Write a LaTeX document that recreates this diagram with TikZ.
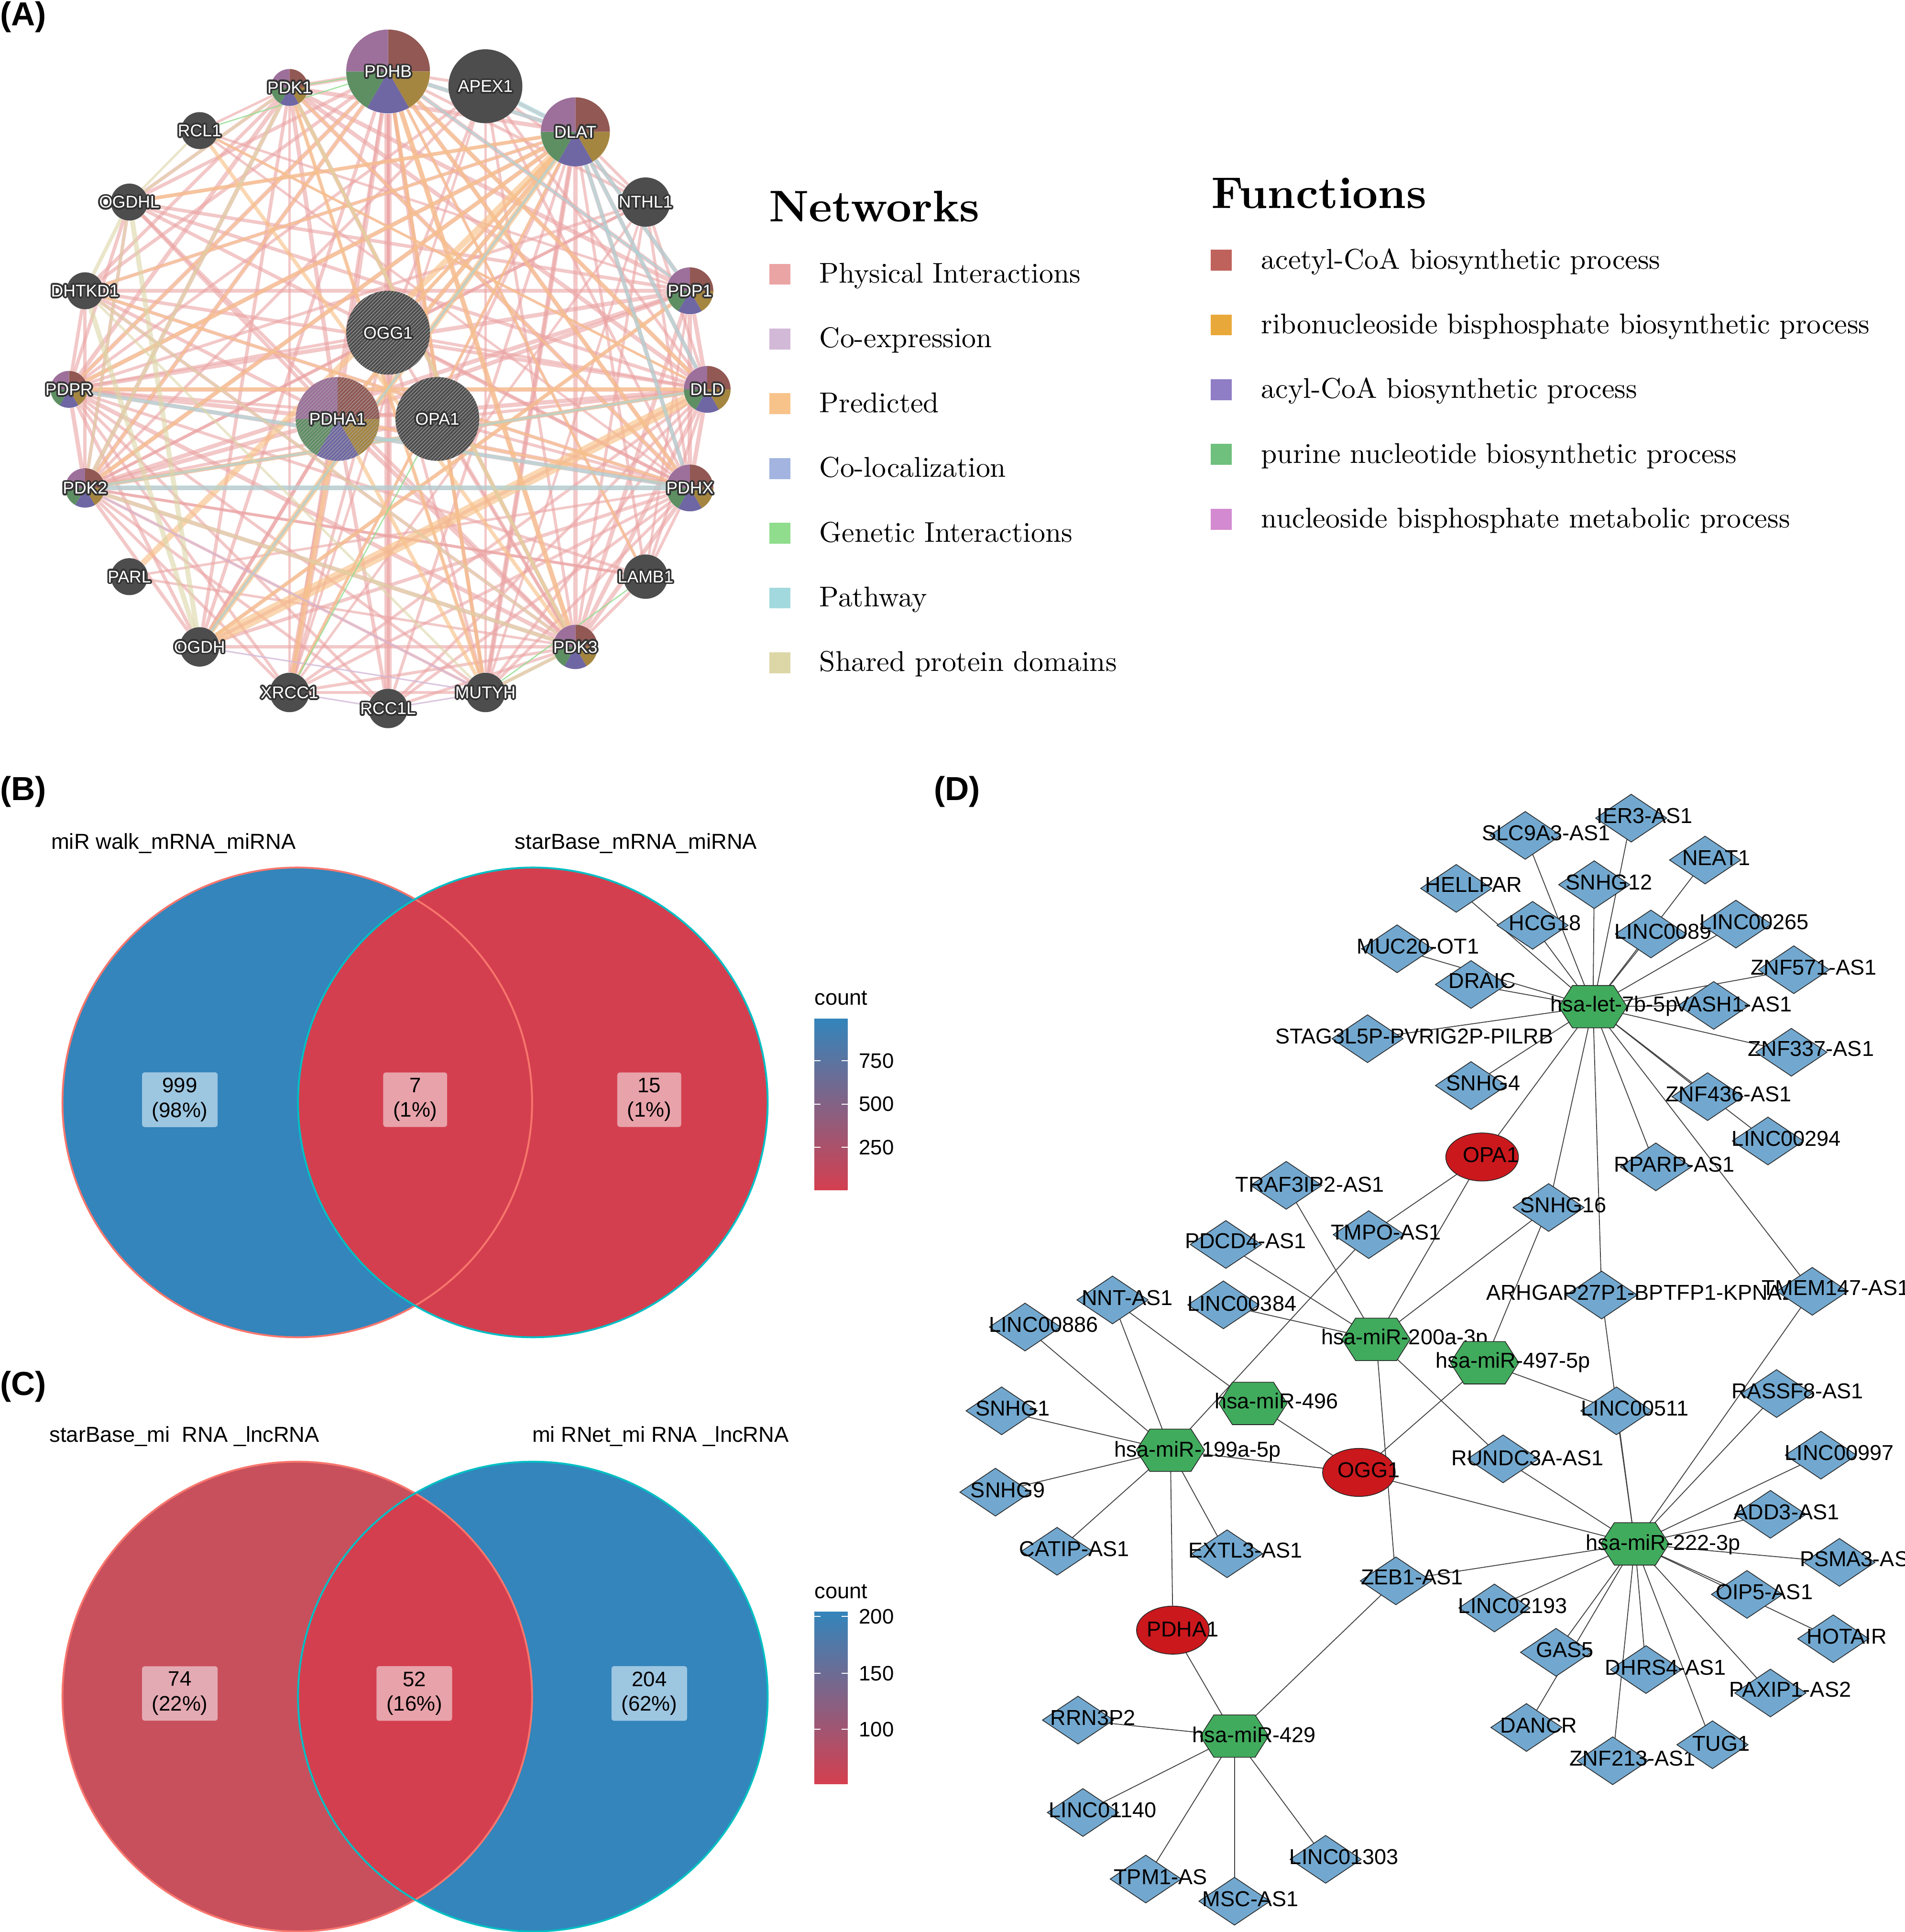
\documentclass[tikz,border=0pt]{standalone}
\usepackage{fontspec}
\newfontfamily\arialfont{Liberation Sans}
\newfontfamily\lmten{lmroman10-regular.otf}[BoldFont=lmroman10-bold.otf]
\usepackage{contour}
\contourlength{1.4pt}
\usetikzlibrary{shapes.geometric,patterns,calc}
\pgfdeclarelayer{edges}
\pgfsetlayers{edges,main}

\definecolor{genegrey}{HTML}{4D4D4D}
\definecolor{wred}{HTML}{925853}
\definecolor{wgold}{HTML}{A58641}
\definecolor{wpurple}{HTML}{6F67A4}
\definecolor{wgreen}{HTML}{5E8F63}
\definecolor{wmauve}{HTML}{9D709B}
\definecolor{fnred}{HTML}{C0625C}
\definecolor{fngold}{HTML}{E9A93A}
\definecolor{fnpurple}{HTML}{8F7DC6}
\definecolor{fngreen}{HTML}{6FC07D}
\definecolor{fnpink}{HTML}{D38AD0}
\definecolor{nphys}{HTML}{EBA4A4}
\definecolor{ncoexp}{HTML}{D3B9D8}
\definecolor{npred}{HTML}{F8C38A}
\definecolor{ncoloc}{HTML}{A2B4DF}
\definecolor{ngen}{HTML}{90DD8E}
\definecolor{npath}{HTML}{A2D9DE}
\definecolor{nshared}{HTML}{DDD6A7}
\definecolor{vblue}{HTML}{3385BB}
\definecolor{vred}{HTML}{D43F4F}
\definecolor{vmuted}{HTML}{C8505D}
\definecolor{vsalmon}{HTML}{F8766D}
\definecolor{vcyan}{HTML}{00BFC4}
\definecolor{boxblue}{HTML}{9DC6E1}
\definecolor{boxpink}{HTML}{E8A2AA}
\definecolor{boxmuted}{HTML}{E4AAB3}
\definecolor{cbmid}{HTML}{9A6C8E}
\definecolor{lncblue}{HTML}{72A8CF}
\definecolor{mirgreen}{HTML}{41AB5D}
\definecolor{mrnared}{HTML}{CB181D}

\begin{document}
\begin{tikzpicture}[x=1pt, y=-1pt,
  gene/.style={circle, inner sep=0pt, draw=none},
  glabel/.style={anchor=base, inner sep=0pt, text=white, font=\arialfont\fontsize{13.8}{14}\selectfont},
  legsq/.style={minimum size=17pt, inner sep=0pt},
  legtext/.style={anchor=base west, inner sep=0pt, font=\lmten\fontsize{23.2}{25}\selectfont},
  legtitle/.style={anchor=base west, inner sep=0pt, font=\lmten\fontsize{36}{38}\selectfont\bfseries},
  panel/.style={anchor=base west, inner sep=0pt, font=\arialfont\fontsize{27}{28}\selectfont\bfseries},
  vtitle/.style={anchor=base west, inner sep=0pt, font=\arialfont\fontsize{17.6}{18}\selectfont},
  vbox/.style={rounded corners=2pt, align=center, inner xsep=8pt, inner ysep=4.5pt, font=\arialfont\fontsize{17}{20}\selectfont},
  cbtick/.style={anchor=west, inner sep=0pt, font=\arialfont\fontsize{17}{18}\selectfont},
  lnc/.style={diamond, draw=black!85, line width=0.6pt, fill=lncblue, minimum width=58pt, minimum height=39pt, inner sep=0pt},
  mrna/.style={ellipse, draw=black!85, line width=0.6pt, fill=mrnared, minimum width=59pt, minimum height=39pt, inner sep=0pt},
  mirna/.style={rectangle, minimum width=55pt, minimum height=34pt, inner sep=0pt},
  mirshape/.style={fill=mirgreen, draw=black!85, line width=0.6pt},
  dlab/.style={anchor=base, inner sep=0pt, font=\arialfont\fontsize{17.5}{18}\selectfont},
  dedge/.style={draw=black!75, line width=0.7pt},
  phys/.style={draw=nphys, line width=#1, draw opacity=0.6}, phys/.default=3.4pt,
  pred/.style={draw=npred, line width=#1, draw opacity=0.65}, pred/.default=3pt,
  pathw/.style={draw=npath, line width=#1, draw opacity=0.6}, pathw/.default=3pt,
  shared/.style={draw=nshared, line width=#1, draw opacity=0.6}, shared/.default=3pt,
  coexp/.style={draw=ncoexp, line width=1.2pt, draw opacity=0.8},
  genet/.style={draw=ngen, line width=1pt, draw opacity=0.8}]

\begin{pgfonlayer}{edges}
\fill[white] (0,0) rectangle (1546,1568);
\end{pgfonlayer}
\useasboundingbox (0,0) rectangle (1546,1568);

% ---------- (A) GeneMANIA network
\node[panel] (labA) at (0,20.6) {(A)};

\foreach \n/\x/\y/\rad/\hat/\lbl in {pdhb/315/58/34/0/PDHB, dlat/467/107/28/0/DLAT, pdkone/235/71/15/0/PDK1,
    pdpone/560/236/19/0/PDP1, pdpr/56/316/15/0/PDPR, dld/574/316/19/0/DLD, pdha/274/340/34/1/PDHA1,
    pdktwo/69/396/16/0/PDK2, pdhx/560/396/19/0/PDHX, pdkthree/467/525/18/0/PDK3}{
  \node[gene, minimum size=2*\rad*1pt] (\n) at (\x,\y) {};
  \foreach \col/\sa/\ea in {wred/-90/0, wgold/0/60, wpurple/60/120, wgreen/120/180, wmauve/180/270}
    \fill[\col] (\n.center) -- ++(\sa:\rad) arc[start angle=\sa, end angle=\ea, radius=\rad] -- cycle;
  \ifnum\hat=1 \fill[pattern=north east lines, pattern color=gray!70] (\n.center) circle[radius=\rad]; \fi
  \node[glabel] (\n-t) at (\x,\y+4.8) {\contour{black!80}{\lbl}};
}

\foreach \n/\x/\y/\rad/\hat/\lbl in {apex/394/70/30/0/APEX1, rcl/162/106/15/0/RCL1, ogdhl/105/164/15/0/OGDHL,
    nthl/524/164/20/0/NTHL1, dhtkd/69/236/15/0/DHTKD1, ogg/315/270/34/1/OGG1, opa/355/340/34/1/OPA1,
    parl/105/468/15/0/PARL, lamb/524/468/18/0/LAMB1, ogdh/162/525/16/0/OGDH, xrcc/235/562/16/0/XRCC1,
    rccl/315/575/16/0/RCC1L, mutyh/394/562/16/0/MUTYH}{
  \node[gene, fill=genegrey, minimum size=2*\rad*1pt] (\n) at (\x,\y) {};
  \ifnum\hat=1 \fill[pattern=north east lines, pattern color=gray!70] (\n.center) circle[radius=\rad]; \fi
  \node[glabel] (\n-t) at (\x,\y+4.8) {\contour{black!80}{\lbl}};
}

\begin{pgfonlayer}{edges}
\foreach \a [count=\i] in {pdhb,dlat,pdha,dld,pdhx,pdkone,pdktwo,pdkthree,pdpone,pdpr}
  \foreach \b [count=\j] in {pdhb,dlat,pdha,dld,pdhx,pdkone,pdktwo,pdkthree,pdpone,pdpr}
    {\ifnum\j>\i \draw[phys] (\a) -- (\b); \fi}
\foreach \a in {ogdh,ogdhl,dhtkd}
  \foreach \b in {pdhb,dlat,pdha,dld,pdhx,pdpone,pdpr,pdktwo,pdkone,pdkthree}
    \draw[phys=2.8pt] (\a) -- (\b);
\foreach \a in {ogg,opa,apex,mutyh,xrcc,rccl,nthl,lamb}
  \foreach \b in {pdhb,dlat,dld,pdhx,pdkthree,pdpr,pdktwo}
    \draw[phys=2.4pt] (\a) -- (\b);
\foreach \a/\b/\w in {ogg/apex/2.4pt, ogg/nthl/2.4pt, ogg/xrcc/2.4pt, ogg/mutyh/2.4pt, apex/xrcc/2pt,
    apex/nthl/2pt, apex/mutyh/2pt, xrcc/mutyh/2pt, nthl/mutyh/2pt, nthl/xrcc/2pt, lamb/pdpone/2pt,
    rccl/pdhb/6pt, rcl/pdkone/2pt, rcl/pdhx/2pt, rcl/dld/2pt, rcl/pdpone/2pt, xrcc/pdha/6pt,
    mutyh/pdhb/3pt, mutyh/dlat/4pt, parl/pdhx/2pt, parl/pdkthree/2pt, pdha/ogdh/3pt, pdktwo/lamb/2pt,
    xrcc/pdkone/2pt, mutyh/pdkone/2pt, rccl/pdha/3pt}
  \draw[phys=\w] (\a) -- (\b);
\foreach \a/\b/\w in {ogdh/dld/9pt, ogdh/dlat/5pt, parl/dlat/5pt, pdhb/pdkthree/4pt, rcl/pdkthree/3pt,
    ogdhl/dlat/3pt, pdktwo/dlat/3pt, pdkone/mutyh/3pt, pdha/dlat/3pt, xrcc/pdha/4pt, pdhb/dld/3pt,
    dhtkd/pdhx/2pt, ogdh/pdpone/3pt, pdpr/dld/3pt, pdkone/pdhx/2pt, pdhb/pdktwo/2pt, pdha/pdhx/2pt,
    ogg/dlat/3pt, xrcc/dlat/2pt, pdpr/pdhb/2pt, pdpr/dlat/3pt, dhtkd/dlat/2pt, pdhb/mutyh/3pt,
    pdhb/lamb/2pt, pdhb/pdhx/3pt, pdkone/pdkthree/2pt, dld/pdktwo/3pt, pdha/mutyh/3pt, rcl/dld/2pt}
  \draw[pred=\w] (\a) -- (\b);
\foreach \a/\b/\w in {pdktwo/pdhx/4pt, pdpr/pdhx/3pt, pdhb/dlat/3pt, apex/dlat/4pt, dlat/pdpone/3pt,
    dlat/pdhx/3pt, pdktwo/dld/2pt, ogdh/dlat/2pt, pdhb/pdpone/2pt, dlat/dld/3pt}
  \draw[pathw=\w] (\a) -- (\b);
\foreach \a/\b/\w in {ogdhl/ogdh/4pt, dhtkd/ogdh/4pt, ogdhl/dhtkd/3pt, pdkone/pdkthree/3pt,
    pdkone/pdktwo/3pt, pdktwo/pdkthree/3pt, ogdhl/pdktwo/2pt, dhtkd/pdkthree/2pt, rcl/ogdhl/2pt,
    pdkone/ogdhl/2pt, mutyh/pdkthree/3pt, dhtkd/mutyh/2pt}
  \draw[shared=\w] (\a) -- (\b);
\foreach \a/\b in {xrcc/rccl, rccl/mutyh, pdktwo/mutyh, ogdh/mutyh}
  \draw[coexp] (\a) -- (\b);
\foreach \a/\b in {rcl/pdhb, xrcc/opa, pdkone/pdhb, mutyh/lamb}
  \draw[genet] (\a) -- (\b);
\end{pgfonlayer}

% legend of (A)
\node[legtitle] (nettitle) at (624,180) {Networks};
\foreach \col/\lbl [count=\i from 0] in {nphys/Physical Interactions, ncoexp/Co-expression, npred/Predicted,
    ncoloc/Co-localization, ngen/Genetic Interactions, npath/Pathway, nshared/Shared protein domains}{
  \node[legsq, fill=\col] (net\i) at (633,222.6+52.55*\i) {};
  \node[legtext] (net\i-t) at (665,229.6+52.55*\i) {\lbl};
}
\node[legtitle] (fntitle) at (983,169) {Functions};
\foreach \col/\lbl [count=\i from 0] in {fnred/acetyl-CoA biosynthetic process,
    fngold/ribonucleoside bisphosphate biosynthetic process, fnpurple/acyl-CoA biosynthetic process,
    fngreen/purine nucleotide biosynthetic process, fnpink/nucleoside bisphosphate metabolic process}{
  \node[legsq, fill=\col] (fn\i) at (991.3,211.2+52.55*\i) {};
  \node[legtext] (fn\i-t) at (1023.5,218.2+52.55*\i) {\lbl};
}

% ---------- (B) Venn mRNA-miRNA
\node[panel] (labB) at (0,649.4) {(B)};
\node[vtitle] (btitlel) at (41.4,689.2) {miR walk\_mRNA\_miRNA};
\node[vtitle] (btitler) at (417.7,689.2) {starBase\_mRNA\_miRNA};
\fill[vblue] (241.3,894.7) circle[radius=190.6];
\fill[vred] (432.5,894.7) circle[radius=190.6];
\draw[vsalmon, line width=1.5pt] (241.3,894.7) circle[radius=190.6];
\draw[vcyan, line width=1.5pt] (432.5,894.7) circle[radius=190.6];
\node[vbox, fill=boxblue] (bl) at (146,892.5) {999\\(98\%)};
\node[vbox, fill=boxpink] (bm) at (337,892.5) {7\\(1\%)};
\node[vbox, fill=boxpink] (br) at (527,892.5) {15\\(1\%)};
\node[vtitle] (bcount) at (661,815.5) {count};
\shade[top color=vblue, middle color=cbmid, bottom color=vred] (661,827) rectangle (688,966);
\foreach \v/\y in {750/861, 500/896, 250/931.2}{
  \draw[white, line width=0.8pt] (661,\y) -- (666,\y) (683,\y) -- (688,\y);
  \node[cbtick] (btick\v) at (697,\y) {\v};
}

% ---------- (C) Venn miRNA-lncRNA
\node[panel] (labC) at (0,1132.5) {(C)};
\node[vtitle] (ctitlel) at (40,1170.2) {starBase\_mi\ \ RNA \_lncRNA};
\node[vtitle] (ctitler) at (431.8,1170.2) {mi RNet\_mi RNA \_lncRNA};
\fill[vmuted] (241.3,1376.9) circle[radius=190.6];
\fill[vblue] (432.5,1376.9) circle[radius=190.6];
\begin{scope}
  \clip (241.3,1376.9) circle[radius=190.6];
  \fill[vred] (432.5,1376.9) circle[radius=190.6];
\end{scope}
\draw[vsalmon, line width=1.5pt] (241.3,1376.9) circle[radius=190.6];
\draw[vcyan, line width=1.5pt] (432.5,1376.9) circle[radius=190.6];
\node[vbox, fill=boxmuted] (cl) at (146,1374.4) {74\\(22\%)};
\node[vbox, fill=boxpink] (cm) at (336.3,1374.4) {52\\(16\%)};
\node[vbox, fill=boxblue] (cr) at (527,1374.4) {204\\(62\%)};
\node[vtitle] (ccount) at (661,1297.1) {count};
\shade[top color=vblue, middle color=cbmid, bottom color=vred] (661,1308.1) rectangle (688,1447.7);
\foreach \v/\y in {200/1312, 150/1358, 100/1403.5}{
  \draw[white, line width=0.8pt] (661,\y) -- (666,\y) (683,\y) -- (688,\y);
  \node[cbtick] (ctick\v) at (697,\y) {\v};
}

% ---------- (D) ceRNA network
\node[panel] (labD) at (758,649.4) {(D)};

\foreach \n/\x/\y/\lx/\ly/\lbl in {slc/1238/678/1255/676/SLC9A3-AS1, ier/1324/664/1335/662/IER3-AS1,
    neat/1384/698/1393/696/NEAT1, hell/1182/721/1196/718/HELLPAR, snhgtw/1294/718/1306/716/SNHG12,
    hcg/1244/751/1254/749/HCG18, lincnine/1340/758/1350/756/LINC0089, linctwo/1409/750/1424/748/LINC00265,
    muc/1134/770/1151/768/MUC20-OT1, znffive/1456/787/1472/785/ZNF571-AS1, draic/1194/799/1203/796/DRAIC,
    vash/1391/816/1407/815/VASH1-AS1, stag/1110/843/1148/841/STAG3L5P-PVRIG2P-PILRB,
    znfthree/1454/854/1470/851/ZNF337-AS1, snhgfour/1194/881/1204/879/SNHG4,
    znffour/1386/890/1403/888/ZNF436-AS1, lincpoe/1435/926/1450/924/LINC00294,
    rparp/1344/947/1359/945/RPARP-AS1, traf/1044/962/1063/961/TRAF3IP2-AS1,
    snhgsix/1257/980/1269/978/SNHG16, tmpo/1111/1002/1125/1000/TMPO-AS1, pdcd/995/1010/1011/1007/PDCD4-AS1,
    arhgap/1300/1051/1342/1049/ARHGAP27P1-BPTFP1-KPNA2P3, tmem/1471/1048/1490/1045/TMEM147-AS1,
    nnt/903/1055/915/1053/NNT-AS1, lincthree/993/1059/1008/1058/LINC00384,
    linceight/832/1077/847/1075/LINC00886, snhgone/813/1145/822/1143/SNHG1,
    rassf/1442/1131/1459/1129/RASSF8-AS1, lincfive/1312/1145/1327/1143/LINC00511,
    rundc/1220/1184/1240/1183/RUNDC3A-AS1, lincnn/1478/1181/1493/1179/LINC00997,
    snhgnine/808/1211/818/1209/SNHG9, add/1437/1229/1450/1227/ADD3-AS1, catip/858/1259/872/1257/CATIP-AS1,
    extl/996/1261/1011/1258/EXTL3-AS1, psma/1493/1268/1510/1265/PSMA3-AS1, zeb/1133/1283/1146/1280/ZEB1-AS1,
    lincttn/1213/1305/1228/1303/LINC02193, oip/1418/1294/1432/1292/OIP5-AS1, hotair/1488/1330/1499/1328/HOTAIR,
    gas/1263/1341/1270/1339/GAS5, dhrs/1336/1355/1352/1353/DHRS4-AS1, paxip/1437/1374/1453/1371/PAXIP1-AS2,
    dancr/1239/1402/1249/1400/DANCR, rrn/875/1396/887/1394/RRN3P2, znftt/1309/1429/1325/1427/ZNF213-AS1,
    tug/1390/1416/1397/1415/TUG1, lincoo/879/1471/895/1469/LINC01140, lincooth/1076/1509/1091/1507/LINC01303,
    tpm/930/1525/942/1523/TPM1-AS, msc/1002/1543/1015/1541/MSC-AS1}{
  \node[lnc] (\n) at (\x,\y) {};
  \node[dlab] (\n-t) at (\lx,\ly+6.2) {\lbl};
}

\foreach \n/\x/\y/\lx/\ly/\lbl in {mopa/1203/939/1210/937/OPA1, mogg/1103/1195/1111/1193/OGG1,
    mpdha/952/1323/960/1322/PDHA1}{
  \node[mrna] (\n) at (\x,\y) {};
  \node[dlab] (\n-t) at (\lx,\ly+6.2) {\lbl};
}

\foreach \n/\x/\y/\lx/\ly/\lbl in {let/1293/817/1310/815/hsa-let-7b-5p, mirtwoh/1117/1087/1140/1085/hsa-miR-200a-3p,
    mirfns/1205/1106/1228/1104/hsa-miR-497-5p, mirfnsix/1017/1139/1036/1137/hsa-miR-496,
    mirone/950/1177/972/1176/hsa-miR-199a-5p, mirtt/1327/1253/1350/1252/hsa-miR-222-3p,
    mirfour/1002/1409/1018/1408/hsa-miR-429}{
  \node[mirna] (\n) at (\x,\y) {};
  \filldraw[mirshape] (\n.west) -- ([xshift=11pt]\n.north west) -- ([xshift=-11pt]\n.north east) -- (\n.east)
    -- ([xshift=-11pt]\n.south east) -- ([xshift=11pt]\n.south west) -- cycle;
  \node[dlab] (\n-t) at (\lx,\ly+6.2) {\lbl};
}

\begin{pgfonlayer}{edges}
\foreach \h/\targets in {let/{slc,ier,neat,hell,snhgtw,hcg,lincnine,linctwo,muc,znffive,draic,vash,stag,
      znfthree,snhgfour,znffour,lincpoe,mopa,rparp,snhgsix,arhgap,tmem},
    mirtwoh/{traf,pdcd,lincthree,mopa,snhgsix,rundc,zeb},
    mirone/{nnt,linceight,snhgone,snhgnine,catip,extl,mpdha,mogg,tmpo},
    mirfnsix/{nnt,mogg}, mirfns/{snhgsix,lincfive,mogg}, tmpo/{mopa},
    mirtt/{mogg,zeb,arhgap,lincfive,tmem,rassf,lincnn,add,psma,oip,hotair,rundc,lincttn,gas,dancr,dhrs,
      znftt,tug,paxip},
    mirfour/{mpdha,zeb,rrn,lincoo,tpm,msc,lincooth}}
  \foreach \t in \targets
    \draw[dedge] (\h.center) -- (\t.center);
\end{pgfonlayer}
\end{tikzpicture}
\end{document}
